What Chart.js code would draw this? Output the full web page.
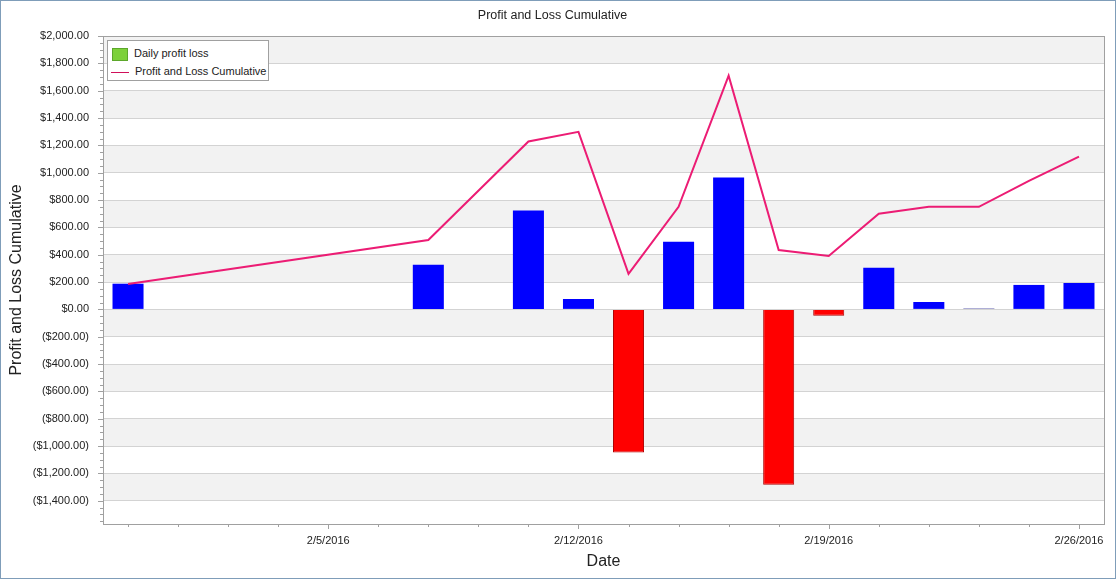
<!DOCTYPE html>
<html>
<head>
<meta charset="utf-8">
<style>
  body { margin: 0; background: #fff; }
  .frame {
    position: relative;
    width: 1114px;
    height: 577px;
    border: 1px solid #7f9db9;
  }
  .legend {
    position: absolute;
    left: 106px;
    top: 39px;
    width: 160px;
    height: 39px;
    border: 1px solid #a0a0a0;
    background: #fff;
    font: 11px "Liberation Sans", sans-serif;
    color: #222;
    white-space: nowrap;
  }
  .legend .row { position: absolute; left: 4px; height: 16px; line-height: 16px; }
  .legend .swatch {
    display: inline-block; vertical-align: middle;
    width: 16px; height: 13px; margin-right: 6px;
    background: #7dd13a; border: 1px solid #5ca72b; box-sizing: border-box;
  }
  .legend .dash {
    display: inline-block; vertical-align: middle;
    width: 18px; height: 0; margin-right: 6px; margin-left: -1px;
    border-top: 1px solid #d0105a;
  }
</style>
</head>
<body>
<div class="frame">
  <canvas id="pnlChart"></canvas>
  <div class="legend">
    <div class="row" style="top:4px"><span class="swatch"></span>Daily profit loss</div>
    <div class="row" style="top:22px"><span class="dash"></span>Profit and Loss Cumulative</div>
  </div>
</div>

<script src="https://cdn.jsdelivr.net/npm/chart.js"></script>
<script>
  // trading days (weekends skipped)
  const days = [
    "2/1/2016", "2/2/2016", "2/3/2016", "2/4/2016", "2/5/2016",
    "2/8/2016", "2/9/2016", "2/10/2016", "2/11/2016", "2/12/2016",
    "2/15/2016", "2/16/2016", "2/17/2016", "2/18/2016", "2/19/2016",
    "2/22/2016", "2/23/2016", "2/24/2016", "2/25/2016", "2/26/2016",
  ];
  const labelledDays = ["2/5/2016", "2/12/2016", "2/19/2016", "2/26/2016"];

  const dailyPnl = [
    188, null, null, null, null,
    null, 326, null, 723, 76,
    -1047, 495, 965, -1282, -47,
    304, 54, 6, 179, 193,
  ];
  const cumulativePnl = [
    185, null, null, null, null,
    null, 507, null, 1228, 1299,
    260, 750, 1710, 434, 390,
    700, 750, 750, 940, 1118,
  ];

  // y axis: labelled ticks from -1400 to 2000, axis runs a bit lower
  const yTicks = [
    -1400, -1200, -1000, -800, -600, -400, -200, 0,
    200, 400, 600, 800, 1000, 1200, 1400, 1600, 1800, 2000,
  ];
  const yMin = -1570;
  const yMax = 2000;
  const yStep = 200;

  const FONT = "'Liberation Sans', sans-serif";

  function money(v) {
    const s = "$" + Math.abs(v).toLocaleString("en-US", {
      minimumFractionDigits: 2, maximumFractionDigits: 2,
    });
    return v < 0 ? "(" + s + ")" : s;
  }

  // alternating bands, ticks and frame around the plot
  const plotDecor = {
    id: "plotDecor",
    beforeDraw(chart) {
      const { ctx, chartArea: a, scales } = chart;
      const y = scales.y;
      ctx.save();
      ctx.fillStyle = "#f2f2f2";
      for (let v = yMax, k = 0; v > yMin; v -= yStep, k++) {
        if (k % 2) continue;
        const top = y.getPixelForValue(v);
        const bot = y.getPixelForValue(Math.max(v - yStep, yMin));
        ctx.fillRect(a.left, top, a.right - a.left, bot - top);
      }
      ctx.restore();
    },
    afterDraw(chart) {
      const { ctx, chartArea: a, scales } = chart;
      ctx.save();
      ctx.strokeStyle = "#a0a0a0";
      ctx.lineWidth = 1;
      ctx.beginPath();
      // y ticks: major every 200, minor every 50
      for (let v = yMax; v >= yMin; v -= 50) {
        const py = Math.round(scales.y.getPixelForValue(v)) + 0.5;
        const len = v % yStep === 0 ? 5 : 3;
        ctx.moveTo(a.left - len, py);
        ctx.lineTo(a.left, py);
      }
      // x ticks: one per day, longer where labelled
      days.forEach((d, i) => {
        const px = Math.round(scales.x.getPixelForValue(i)) + 0.5;
        const len = labelledDays.includes(d) ? 5 : 3;
        ctx.moveTo(px, a.bottom);
        ctx.lineTo(px, a.bottom + len);
      });
      ctx.stroke();
      ctx.strokeRect(Math.round(a.left) + 0.5, Math.round(a.top) + 0.5,
        Math.round(a.right - a.left), Math.round(a.bottom - a.top));
      ctx.restore();
    },
  };

  new Chart(document.getElementById("pnlChart"), {
    data: {
      labels: days,
      datasets: [
        {
          type: "line",
          label: "Profit and Loss Cumulative",
          data: cumulativePnl,
          borderColor: "#ec1c74",
          borderWidth: 2,
          pointRadius: 0,
          tension: 0,
          spanGaps: true,
          order: 0,
        },
        {
          type: "bar",
          label: "Daily profit loss",
          data: dailyPnl,
          backgroundColor: (c) => (c.raw < 0 ? "#ff0000" : c.raw < 10 ? "#00007f" : "#0000ff"),
          borderColor: "#b00000",
          borderWidth: (c) => (c.raw < 0 ? 1 : 0),
          barPercentage: 0.62,
          categoryPercentage: 1,
          order: 1,
        },
      ],
    },
    options: {
      responsive: true,
      maintainAspectRatio: false,
      animation: false,
      layout: { padding: { left: 0, right: 11, top: 0, bottom: 0 } },
      plugins: {
        legend: { display: false },
        tooltip: { enabled: false },
        title: {
          display: true,
          text: "Profit and Loss Cumulative",
          color: "#222",
          font: { family: FONT, size: 12.5, weight: "normal" },
          padding: { top: 7, bottom: 13 },
        },
      },
      scales: {
        x: {
          offset: true,
          grid: { drawOnChartArea: false, drawTicks: false },
          border: { color: "#a0a0a0" },
          ticks: {
            autoSkip: false,
            maxRotation: 0,
            padding: 10,
            color: "#222",
            font: { family: FONT, size: 11 },
            callback: (v, i) => (labelledDays.includes(days[i]) ? days[i] : ""),
          },
          title: {
            display: true,
            text: "Date",
            color: "#222",
            font: { family: FONT, size: 16 },
            padding: { top: 0, bottom: 7 },
          },
          afterFit: (s) => { s.height = 54; },
        },
        y: {
          min: yMin,
          max: yMax,
          grid: { color: "#d3d3d3", drawTicks: false },
          border: { color: "#a0a0a0" },
          afterBuildTicks: (s) => {
            s.ticks = yTicks.map((v) => ({ value: v }));
          },
          ticks: {
            padding: 14,
            color: "#222",
            font: { family: FONT, size: 11 },
            callback: (v) => money(v),
          },
          title: {
            display: true,
            text: "Profit and Loss Cumulative",
            color: "#222",
            font: { family: FONT, size: 16 },
            padding: { top: 6, bottom: 0 },
          },
          afterFit: (s) => { s.width = 102; },
        },
      },
    },
    plugins: [plotDecor],
  });
</script>
</body>
</html>
